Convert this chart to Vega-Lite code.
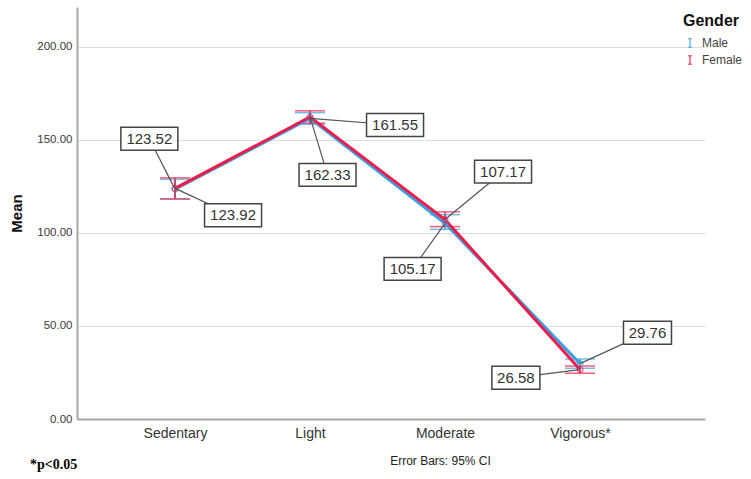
{
  "$schema": "https://vega.github.io/schema/vega-lite/v6.json",
  "width": 628,
  "height": 412,
  "autosize": {"type": "none"},
  "padding": {"left": 77, "top": 7, "right": 46, "bottom": 60},
  "background": "white",
  "title": {"text": "*p<0.05", "orient": "bottom", "anchor": "start", "frame": "group", "font": "Liberation Serif", "fontSize": 14, "fontWeight": "bold", "color": "#000", "dx": -47, "dy": -8, "offset": 0},
  "config": {
    "view": {"stroke": null},
    "font": "Liberation Sans",
    "axis": {"domainColor": "#a6a6a6", "domainWidth": 2, "ticks": false, "gridColor": "#dcdcdc", "gridWidth": 1}
  },
  "datasets": {
    "means": [
      {"activity": "Sedentary", "idx": 0, "gender": "Male", "mean": 123.52, "lo": 118.3, "hi": 128.8},
      {"activity": "Light", "idx": 1, "gender": "Male", "mean": 161.55, "lo": 158.4, "hi": 164.6},
      {"activity": "Moderate", "idx": 2, "gender": "Male", "mean": 105.17, "lo": 101.9, "hi": 109.8},
      {"activity": "Vigorous*", "idx": 3, "gender": "Male", "mean": 29.76, "lo": 27.3, "hi": 32.3},
      {"activity": "Sedentary", "idx": 0, "gender": "Female", "mean": 123.92, "lo": 118.2, "hi": 129.6},
      {"activity": "Light", "idx": 1, "gender": "Female", "mean": 162.33, "lo": 159.0, "hi": 165.6},
      {"activity": "Moderate", "idx": 2, "gender": "Female", "mean": 107.17, "lo": 103.4, "hi": 111.3},
      {"activity": "Vigorous*", "idx": 3, "gender": "Female", "mean": 26.58, "lo": 24.6, "hi": 28.5}
    ],
    "notes": [
      {"label": "123.52", "idx": 0, "mean": 123.52, "lx": -0.19, "ly": 150.6},
      {"label": "123.92", "idx": 0, "mean": 123.92, "lx": 0.43, "ly": 109.5},
      {"label": "161.55", "idx": 1, "mean": 161.55, "lx": 1.63, "ly": 158.0},
      {"label": "162.33", "idx": 1, "mean": 162.33, "lx": 1.13, "ly": 131.2},
      {"label": "107.17", "idx": 2, "mean": 107.17, "lx": 2.43, "ly": 132.9},
      {"label": "105.17", "idx": 2, "mean": 105.17, "lx": 1.76, "ly": 80.7},
      {"label": "29.76", "idx": 3, "mean": 29.76, "lx": 3.5, "ly": 46.4},
      {"label": "26.58", "idx": 3, "mean": 26.58, "lx": 2.525, "ly": 22.2}
    ]
  },
  "encoding": {
    "x": {"field": "idx", "type": "quantitative", "scale": {"domain": [-0.726, 3.926], "nice": false, "zero": false},
      "axis": {"values": [0, 1, 2, 3], "grid": false, "labelExpr": "['Sedentary','Light','Moderate','Vigorous*'][datum.value]", "labelFontSize": 14, "labelColor": "#333", "labelPadding": 7, "title": "Error Bars: 95% CI", "titleFontSize": 12, "titleFontWeight": "normal", "titleColor": "#222", "titlePadding": 15, "titleX": 363, "titleAlign": "center"}},
    "y": {"field": "mean", "type": "quantitative", "scale": {"domain": [0, 221.4], "nice": false},
      "axis": {"values": [0, 50, 100, 150, 200], "format": ".2f", "labelFontSize": 11.5, "labelColor": "#3a3a3a", "labelPadding": 5, "title": "Mean", "titleFontSize": 15, "titleFontWeight": "bold", "titleColor": "#111", "titlePadding": 12}}
  },
  "layer": [
    {
      "data": {"name": "means"},
      "mark": {"type": "rule", "strokeWidth": 1.5},
      "encoding": {
        "y": {"field": "lo", "type": "quantitative"},
        "y2": {"field": "hi"},
        "color": {"field": "gender", "type": "nominal", "sort": ["Male", "Female"], "scale": {"domain": ["Male", "Female"], "range": ["#3d9fe0", "#ec1c4b"]},
          "legend": {"title": "Gender", "orient": "none", "legendX": 606, "legendY": 6, "titleFontSize": 16, "titleFontWeight": "bold", "titleColor": "#111", "labelFontSize": 12, "labelColor": "#444", "symbolType": "M-0.45,-1H0.45M0,-1V1M-0.45,1H0.45", "symbolSize": 70, "symbolStrokeWidth": 1.6, "rowPadding": 1, "titlePadding": 8, "symbolOffset": 1, "labelOffset": 6}}
      }
    },
    {
      "data": {"name": "means"},
      "mark": {"type": "tick", "orient": "horizontal", "size": 30, "thickness": 1.5},
      "encoding": {"y": {"field": "lo", "type": "quantitative"}, "color": {"field": "gender", "type": "nominal"}}
    },
    {
      "data": {"name": "means"},
      "mark": {"type": "tick", "orient": "horizontal", "size": 30, "thickness": 1.5},
      "encoding": {"y": {"field": "hi", "type": "quantitative"}, "color": {"field": "gender", "type": "nominal"}}
    },
    {
      "data": {"name": "means"},
      "mark": {"type": "line", "strokeWidth": 3},
      "encoding": {"color": {"field": "gender", "type": "nominal"}, "order": {"field": "idx"}}
    },
    {
      "data": {"name": "means"},
      "mark": {"type": "point", "shape": "circle", "filled": false, "size": 35, "strokeWidth": 1.2},
      "encoding": {"color": {"field": "gender", "type": "nominal"}}
    },
    {
      "data": {"name": "notes"},
      "mark": {"type": "rule", "color": "#555", "strokeWidth": 1.2},
      "encoding": {"x": {"field": "lx", "type": "quantitative"}, "y": {"field": "ly", "type": "quantitative"}, "x2": {"field": "idx"}, "y2": {"field": "mean"}}
    },
    {
      "data": {"name": "notes"},
      "transform": [{"filter": "length(datum.label) == 6"}],
      "mark": {"type": "point", "shape": "M-1,-0.4H1V0.4H-1Z", "size": 3249, "filled": true, "fill": "white", "stroke": "#444", "strokeWidth": 1.5, "opacity": 1},
      "encoding": {"x": {"field": "lx", "type": "quantitative"}, "y": {"field": "ly", "type": "quantitative"}}
    },
    {
      "data": {"name": "notes"},
      "transform": [{"filter": "length(datum.label) == 5"}],
      "mark": {"type": "point", "shape": "M-1,-0.48H1V0.48H-1Z", "size": 2304, "filled": true, "fill": "white", "stroke": "#444", "strokeWidth": 1.5, "opacity": 1},
      "encoding": {"x": {"field": "lx", "type": "quantitative"}, "y": {"field": "ly", "type": "quantitative"}}
    },
    {
      "data": {"name": "notes"},
      "mark": {"type": "text", "fontSize": 15, "color": "#333", "align": "center", "baseline": "middle"},
      "encoding": {"x": {"field": "lx", "type": "quantitative"}, "y": {"field": "ly", "type": "quantitative"}, "text": {"field": "label"}}
    }
  ]
}
